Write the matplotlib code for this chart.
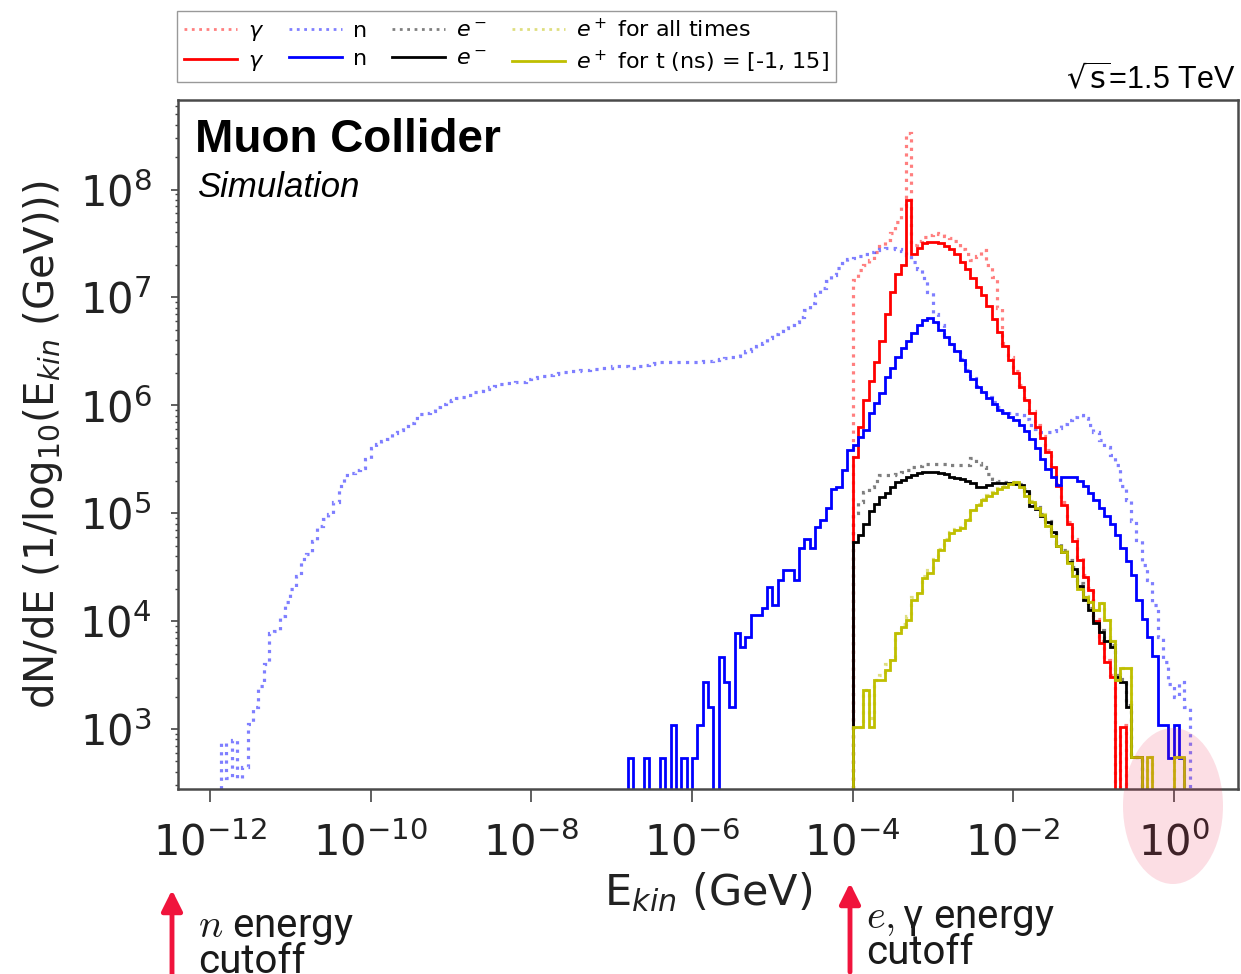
import numpy as np
import matplotlib.pyplot as plt
from matplotlib.lines import Line2D
from matplotlib.patches import Ellipse, FancyArrowPatch
from matplotlib.ticker import NullLocator

W, H = 1241, 974

# histogram bins: bin k spans LOG_E0 + k*BIN_W ... LOG_E0 + (k+1)*BIN_W  (log10 of E in GeV)
LOG_E0 = -12.0
BIN_W = 1 / 15

# log10(dN/dE) per bin; 0 = empty bin
# neutrons, all times (first bin k=2)
n_all_first = 2
n_all = [2.87, 2.55, 2.90, 2.55, 2.65, 3.05, 3.20, 3.40, 3.60, 3.89, 3.91, 4.05, 4.18,
         4.30, 4.42, 4.58, 4.62, 4.74, 4.88, 4.95, 4.99, 5.10, 5.25, 5.35, 5.37, 5.40, 5.42, 5.50,
         5.60, 5.64, 5.67, 5.69, 5.74, 5.77, 5.81, 5.84, 5.88, 5.92, 5.93, 5.95, 5.98, 6.01, 6.04,
         6.05, 6.07, 6.08, 6.10, 6.12, 6.13, 6.15, 6.17, 6.18, 6.20, 6.21, 6.21, 6.22, 6.22, 6.24,
         6.25, 6.26, 6.27, 6.28, 6.29, 6.30, 6.31, 6.32, 6.32, 6.33, 6.33, 6.34, 6.34, 6.35, 6.35,
         6.36, 6.36, 6.36, 6.35, 6.35, 6.36, 6.37, 6.38, 6.39, 6.40, 6.40, 6.40, 6.40, 6.40, 6.40,
         6.40, 6.40, 6.41, 6.41, 6.42, 6.43, 6.44, 6.45, 6.46, 6.48, 6.50, 6.52, 6.55, 6.58, 6.62,
         6.66, 6.69, 6.72, 6.74, 6.77, 6.82, 6.88, 6.95, 7.03, 7.09, 7.15, 7.21, 7.27, 7.32, 7.36,
         7.37, 7.38, 7.40, 7.42, 7.44, 7.45, 7.46, 7.46, 7.45, 7.43, 7.39, 7.33, 7.26, 7.18, 7.05,
         6.85, 6.74, 6.65, 6.57, 6.51, 6.43, 6.33, 6.25, 6.18, 6.13, 6.08, 6.03, 5.98, 5.95, 5.93,
         5.92, 5.91, 5.87, 5.82, 5.78, 5.75, 5.75, 5.76, 5.79, 5.83, 5.86, 5.89, 5.91, 5.88, 5.82,
         5.75, 5.68, 5.61, 5.54, 5.45, 5.25, 5.12, 4.93, 4.75, 4.52, 4.38, 4.15, 3.85, 3.62, 3.42,
         3.30, 3.44, 3.20]

# neutrons, t in [-1, 15] ns (first bin k=78)
n_win_first = 78
n_win = [2.73, 0, 0, 2.73, 0, 0, 2.73, 0, 3.04, 0, 2.73, 0,
         2.73, 3.04, 3.44, 3.20, 0, 3.67, 3.44, 3.20, 3.89, 3.76, 3.85, 4.06, 4.06, 4.12, 4.32,
         4.15, 4.38, 4.47, 4.47, 4.38, 4.68, 4.76, 4.68, 4.87, 4.94, 5.05, 5.22, 5.24, 5.40, 5.59,
         5.63, 5.71, 5.77, 5.93, 6.02, 6.11, 6.26, 6.35, 6.45, 6.53, 6.60, 6.67, 6.74, 6.79, 6.81,
         6.77, 6.70, 6.63, 6.57, 6.50, 6.42, 6.32, 6.24, 6.17, 6.12, 6.07, 6.01, 5.96, 5.93, 5.89,
         5.86, 5.82, 5.76, 5.69, 5.60, 5.50, 5.41, 5.34, 5.26, 5.34, 5.34, 5.34, 5.30, 5.25, 5.19,
         5.12, 5.05, 4.97, 4.90, 4.80, 4.68, 4.56, 4.43, 4.20, 4.02, 3.85, 3.68, 3.04, 3.04, 2.73,
         3.04, 2.73]

# photons (first bin k=120, i.e. 1e-4 GeV)
g_first = 120
g_all = [7.16, 7.25, 7.30, 7.35, 7.42, 7.48, 7.53, 7.60, 7.70, 7.85, 8.52, 7.49, 7.52, 7.56, 7.58,
         7.60, 7.59, 7.57, 7.55, 7.52, 7.45, 7.40, 7.35, 7.38, 7.44, 7.30, 7.19, 6.90, 6.58, 6.45,
         6.32, 6.19, 6.07, 5.95, 5.82, 5.72, 5.59, 5.45, 5.27, 5.10, 4.92, 4.76, 4.59, 4.43, 4.31,
         4.02, 3.82, 3.64, 3.50, 0, 3.04]
g_win = [5.52, 5.80, 6.05, 6.23, 6.40, 6.60, 6.85, 7.05, 7.22, 7.30, 7.90, 7.40, 7.46, 7.50, 7.51,
         7.51, 7.50, 7.48, 7.45, 7.40, 7.33, 7.26, 7.18, 7.10, 7.02, 6.92, 6.80, 6.68, 6.55, 6.42,
         6.30, 6.17, 6.05, 5.93, 5.80, 5.70, 5.57, 5.43, 5.25, 5.08, 4.90, 4.74, 4.57, 4.41, 4.29,
         4.00, 3.80, 3.62, 3.48, 0, 3.02]

# electrons
em_first = 120
em_all = [5.00, 5.10, 5.20, 5.24, 5.30, 5.35, 5.35, 5.35, 5.36, 5.38, 5.40, 5.43, 5.44, 5.46, 5.46,
          5.46, 5.46, 5.46, 5.45, 5.45, 5.45, 5.45, 5.51, 5.47, 5.43, 5.36, 5.32, 5.30, 5.29, 5.29,
          5.28, 5.27, 5.22, 5.09, 5.06, 4.99, 4.93, 4.84, 4.72, 4.66, 4.57, 4.50, 4.35, 4.22, 4.12,
          4.00, 3.92, 3.84, 3.78, 3.50, 3.46, 3.22, 2.74, 2.74]
em_win = [4.73, 4.80, 4.90, 5.02, 5.09, 5.15, 5.19, 5.24, 5.29, 5.31, 5.34, 5.35, 5.37, 5.38, 5.38,
          5.38, 5.37, 5.36, 5.34, 5.33, 5.32, 5.30, 5.28, 5.24, 5.24, 5.26, 5.28, 5.28, 5.28, 5.28,
          5.27, 5.26, 5.21, 5.07, 5.04, 4.97, 4.92, 4.83, 4.70, 4.64, 4.55, 4.48, 4.33, 4.20, 4.10,
          3.98, 3.90, 3.82, 3.76, 3.48, 3.44, 3.20, 2.74, 2.74]

# positrons
ep_first = 120
ep_all = [3.02, 3.02, 3.36, 3.10, 3.45, 3.50, 3.60, 3.66, 3.89, 3.97, 4.05, 4.22, 4.28, 4.42, 4.47,
          4.58, 4.67, 4.76, 4.83, 4.85, 4.87, 4.95, 5.04, 5.09, 5.13, 5.17, 5.20, 5.23, 5.25, 5.28,
          5.29, 5.25, 5.17, 5.11, 5.06, 4.99, 4.89, 4.80, 4.71, 4.65, 4.55, 4.43, 4.31, 4.23, 4.19,
          4.10, 4.17, 4.01, 3.82, 3.45, 3.57, 3.57, 2.74, 2.74, 0, 2.74, 0, 0, 0, 0,
          2.74, 2.74]
ep_win = [3.02, 3.02, 3.36, 3.02, 3.45, 3.45, 3.55, 3.64, 3.89, 3.95, 4.01, 4.20, 4.26, 4.40, 4.45,
          4.57, 4.66, 4.75, 4.82, 4.84, 4.86, 4.94, 5.03, 5.08, 5.12, 5.16, 5.19, 5.22, 5.24, 5.27,
          5.29, 5.24, 5.16, 5.10, 5.05, 4.98, 4.88, 4.79, 4.70, 4.64, 4.54, 4.42, 4.30, 4.22, 4.18,
          4.10, 4.17, 4.01, 3.82, 3.45, 3.57, 3.57, 2.74, 2.74, 0, 2.74, 0, 0, 0, 0,
          2.74, 2.74]

labels_all = [r'$\gamma$', 'n', r'$e^-$', r'$e^+$ for all times']
labels_win = [r'$\gamma$', 'n', r'$e^-$', r'$e^+$ for t (ns) = [-1, 15]']
colors = ['r', 'b', 'k', 'y']

FLOOR = 1e-2


def draw_hist(ax, first, vals, **kw):
    v = np.asarray(vals, dtype=float)
    edges = 10 ** (LOG_E0 + (first + np.arange(len(v) + 1)) * BIN_W)
    counts = np.where(v > 0, 10 ** v, FLOOR)
    ax.stairs(counts, edges, baseline=FLOOR, **kw)


fig = plt.figure(figsize=(W / 100, H / 100), dpi=100)
ax = fig.add_axes([178 / W, (H - 789) / H, (1238 - 178) / W, (789 - 100) / H])

series_all = [(g_first, g_all), (n_all_first, n_all), (em_first, em_all), (ep_first, ep_all)]
series_win = [(g_first, g_win), (n_win_first, n_win), (em_first, em_win), (ep_first, ep_win)]

for (first, vals), c in zip(series_all, colors):
    draw_hist(ax, first, vals, color=c, linestyle=':', linewidth=2.3, alpha=0.5)
for (first, vals), c in zip(series_win, colors):
    draw_hist(ax, first, vals, color=c, linestyle='-', linewidth=2.0)

ax.set_xscale('log')
ax.set_yscale('log')
ax.set_xlim(10 ** -12.4, 10 ** 0.8)
ax.set_ylim(10 ** 2.444, 10 ** 8.83)
ax.set_xticks([1e-12, 1e-10, 1e-8, 1e-6, 1e-4, 1e-2, 1])
ax.xaxis.set_minor_locator(NullLocator())
ax.tick_params(axis='x', which='major', length=9, width=1.2, pad=15, labelsize=30,
               color='#444444', labelcolor='#222222')
ax.tick_params(axis='y', which='major', length=5, width=1.2, pad=14, labelsize=30,
               color='#444444', labelcolor='#222222')
ax.tick_params(axis='y', which='minor', length=2.5, width=1.0, color='#444444')
for sp in ax.spines.values():
    sp.set_color('#4a4a4a')
    sp.set_linewidth(1.8)

ax.set_xlabel(r'E$_{kin}$ (GeV)', fontsize=31, labelpad=4, color='#222222')
ax.set_ylabel(r'dN/dE (1/log$_{10}$(E$_{kin}$ (GeV)))', fontsize=29, labelpad=10, color='#222222')

# legend above the axes
handles, labels = [], []
for i, c in enumerate(colors):
    handles.append(Line2D([], [], color=c, linestyle=':', linewidth=2.0, alpha=0.5))
    labels.append(labels_all[i])
    handles.append(Line2D([], [], color=c, linestyle='-', linewidth=2.0))
    labels.append(labels_win[i])
fig.legend(handles, labels, ncol=4, loc='upper left', bbox_to_anchor=(177 / W, 1 - 11 / H),
           fontsize=16, frameon=True, fancybox=False, edgecolor='#999999', framealpha=1,
           borderaxespad=0, handlelength=2.4, handletextpad=0.5, columnspacing=1.1,
           labelspacing=0.35, borderpad=0.3)

fig.text(195 / W, 1 - 152 / H, 'Muon Collider', fontfamily='Liberation Sans', fontweight='bold',
         fontsize=33, va='baseline')
fig.text(197 / W, 1 - 197 / H, 'Simulation', fontfamily='Liberation Sans', fontstyle='italic',
         fontsize=25, va='baseline')
fig.text(1235 / W, 1 - 89 / H, r'$\sqrt{\mathsf{s}}$=1.5 TeV', fontfamily='Liberation Sans',
         fontsize=22, ha='right', va='baseline')

# cutoff markers below the axis
arrow_red = '#f0143c'
for x, y0, y1 in [(172, 980, 890), (850, 972, 883)]:
    fig.add_artist(FancyArrowPatch((x / W, 1 - y0 / H), (x / W, 1 - y1 / H),
                                   transform=fig.transFigure, color=arrow_red, lw=3.5,
                                   arrowstyle='-|>,head_length=1.0,head_width=0.5',
                                   mutation_scale=12.5, shrinkA=0, shrinkB=0))
txt_kw = dict(fontsize=29, fontfamily='Roboto', math_fontfamily='cm',
              va='baseline', color='#1a1a1a')
fig.text(198 / W, 1 - 937 / H, r'$n$ energy', **txt_kw)
fig.text(198 / W, 1 - 973 / H, 'cutoff', **txt_kw)
fig.text(866 / W, 1 - 928 / H, r'$e,$γ energy', **txt_kw)
fig.text(866 / W, 1 - 964 / H, 'cutoff', **txt_kw)

# highlight around 1 GeV
fig.add_artist(Ellipse((1173 / W, 1 - 806 / H), 100 / W, 156 / H, transform=fig.transFigure,
                       facecolor=(0.92, 0.15, 0.3), alpha=0.15, edgecolor='none', zorder=5))

fig.savefig('out.png', dpi=100)
